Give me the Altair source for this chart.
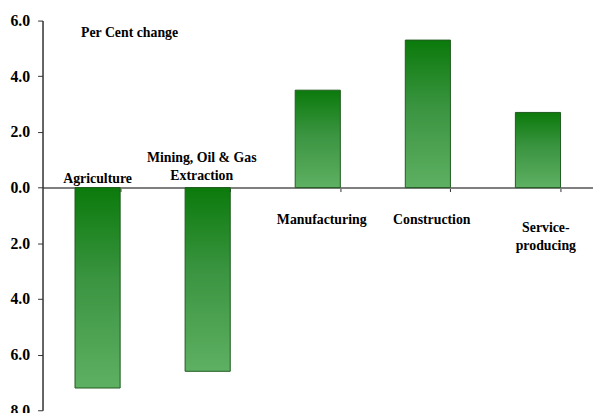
import altair as alt
import pandas as pd

categories = ["Agriculture", "Mining", "Manufacturing", "Construction", "Service"]
label_line1 = ["Agriculture", "Mining, Oil & Gas", "Manufacturing", "Construction", "Service-"]
label_line2 = ["", "Extraction", "", "", "producing"]
values = [-7.2, -6.6, 3.5, 5.3, 2.7]
y_ticks = [-8, -6, -4, -2, 0, 2, 4, 6]

df = pd.DataFrame({"category": categories, "line1": label_line1,
                   "line2": label_line2, "value": values})

FONT = "Liberation Serif"
W, H = 558, 395

gradient = alt.Gradient(
    gradient="linear", x1=0, y1=0, x2=0, y2=1,
    stops=[alt.GradientStop(color="#0b7a0b", offset=0),
           alt.GradientStop(color="#3a9440", offset=0.45),
           alt.GradientStop(color="#5eb062", offset=1)],
)

x_enc = alt.X(
    "category:N", sort=categories,
    scale=alt.Scale(paddingInner=0.59, paddingOuter=0.295),
    axis=alt.Axis(orient="bottom", offset=-(H * 8 / 14), labels=False, title=None,
                  tickBand="extent", tickSize=4, domainColor="#7f7f7f", domainWidth=2,
                  tickColor="#303030", grid=False),
)
y_enc = alt.Y(
    "value:Q",
    scale=alt.Scale(domain=[-8, 6], nice=False, zero=False),
    axis=alt.Axis(values=y_ticks, labelExpr="format(abs(datum.value), '.1f')", title=None,
                  grid=False, tickSize=5, labelFont=FONT, labelFontWeight="bold",
                  labelFontSize=16, labelColor="black", domainColor="#303030",
                  tickColor="#303030", labelPadding=8, domainWidth=1.5),
)

bars = alt.Chart(df).mark_bar(color=gradient, stroke="#1f5a1f", strokeWidth=1).encode(
    x=x_enc, y=y_enc, y2=alt.datum(0)
)


def label_layer(filt, field, dy, dx=0):
    return alt.Chart(df).transform_filter(filt).mark_text(
        baseline="alphabetic", dy=dy, dx=dx, font=FONT, fontSize=14, fontWeight="bold",
        color="black"
    ).encode(x=alt.X("category:N", sort=categories), y=alt.datum(0), text=f"{field}:N")


texts = [
    label_layer("datum.value < 0 && datum.line2 == ''", "line1", -5),
    label_layer("datum.value < 0 && datum.line2 != ''", "line2", -8, -6),
    label_layer("datum.value < 0 && datum.line2 != ''", "line1", -26, -6),
    label_layer("datum.value >= 0 && datum.line2 == ''", "line1", 37, 4),
    label_layer("datum.value >= 0 && datum.line2 != ''", "line1", 45, 8),
    label_layer("datum.value >= 0 && datum.line2 != ''", "line2", 63, 8),
]

chart = alt.layer(bars, *texts).properties(
    width=W, height=H,
    title=alt.TitleParams("Per Cent change", anchor="start", frame="group", font=FONT,
                          fontSize=14, fontWeight="bold", dx=39, offset=-28, color="black"),
    autosize=alt.AutoSizeParams(type="none"),
    padding={"left": 35, "top": 10, "right": 0, "bottom": 0},
).configure_view(stroke=None)

chart.save("out.html", embed_options={"renderer": "svg", "actions": False})
